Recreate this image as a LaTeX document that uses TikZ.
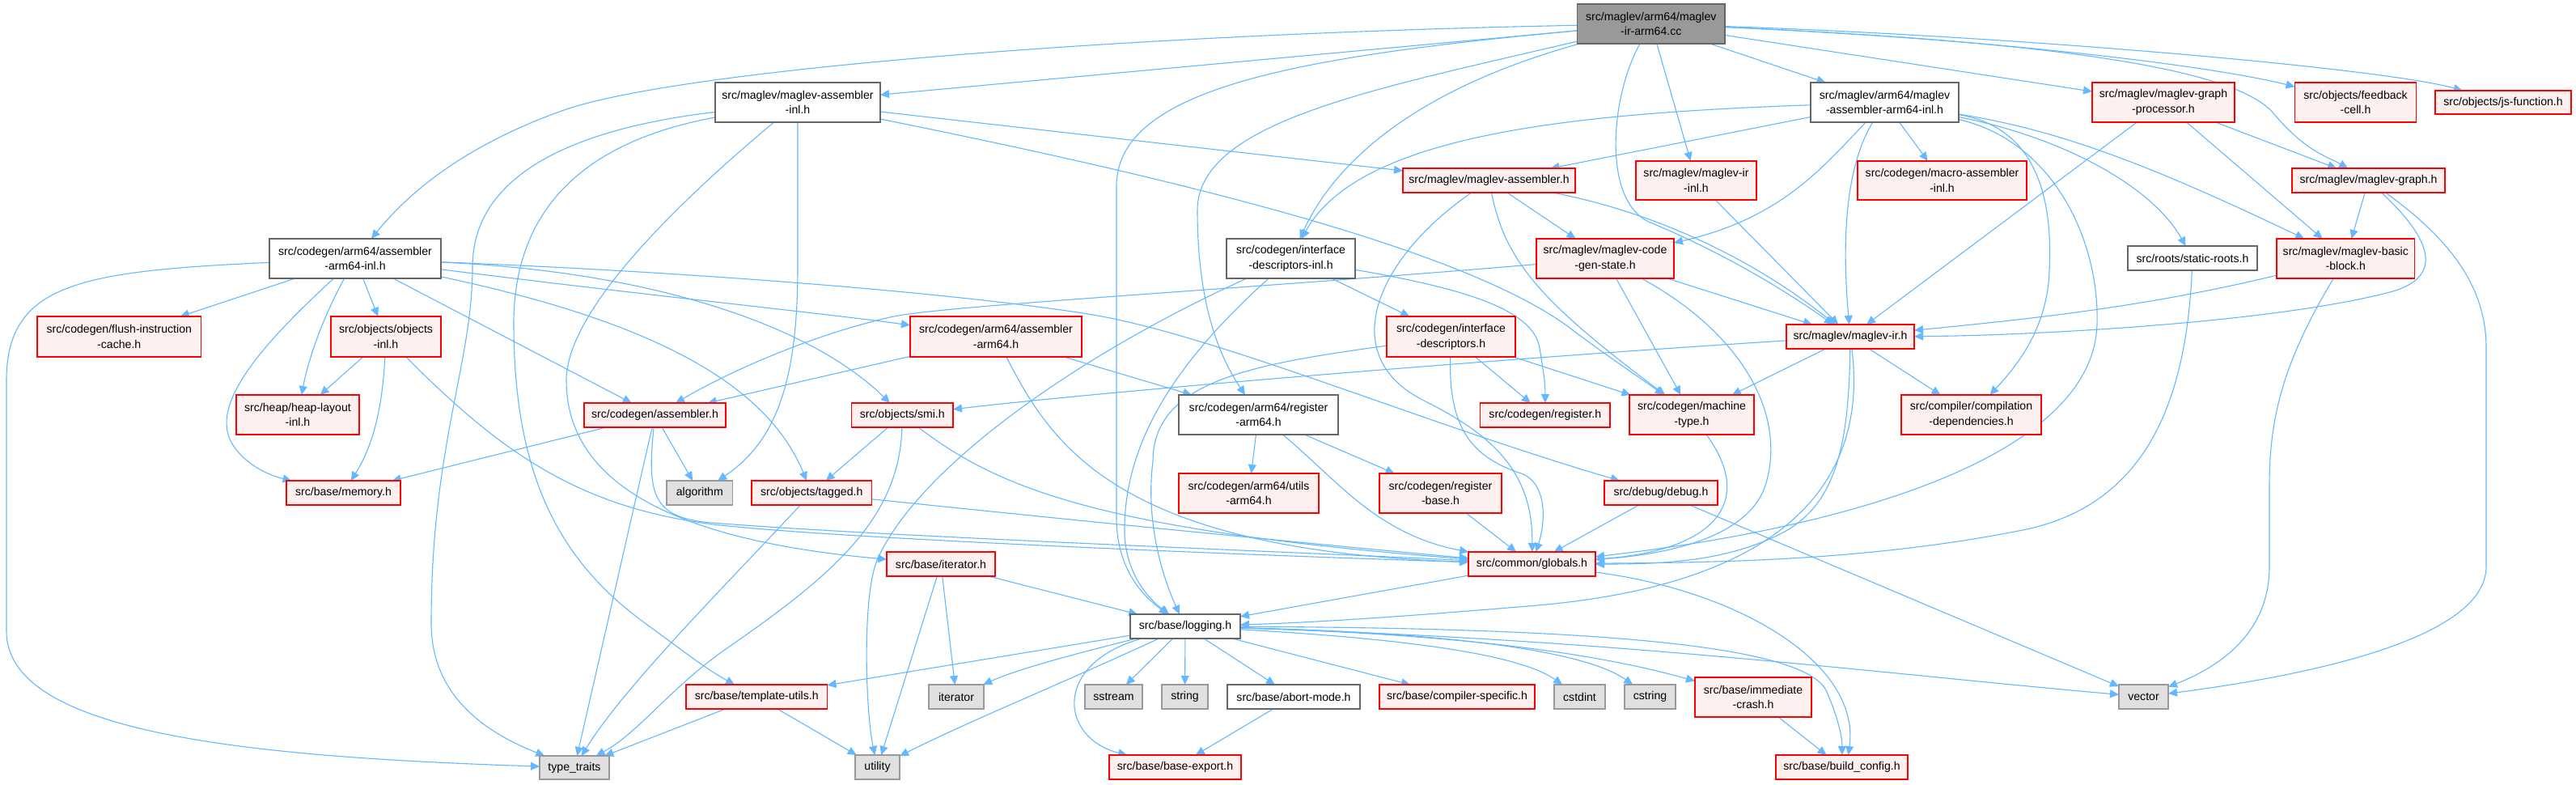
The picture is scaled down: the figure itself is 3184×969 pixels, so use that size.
\documentclass[tikz,border=0pt]{standalone}
\usepackage{fontspec}
\setmainfont{Liberation Sans}
\usetikzlibrary{arrows.meta,backgrounds}
\definecolor{edgec}{HTML}{63B8FF}
\definecolor{redfill}{HTML}{FFF0F0}
\definecolor{sysfill}{HTML}{E0E0E0}
\definecolor{gfour}{HTML}{666666}
\definecolor{gsix}{HTML}{999999}
\newcommand{\gn}[7]{\node[#1, minimum width={(#5-#3)*0.5pt}, minimum height={(#6-#4)*0.5pt}] (#2) at ({(#3+#5)/2},{(#4+#6)/2}) {#7};}
\begin{document}
\begin{tikzpicture}[x=0.5pt,y=-0.5pt,
  gbox/.style={draw, inner sep=0pt, outer sep=0pt, align=center, line width=0.6pt, font=\fontsize{7.05pt}{9.35pt}\selectfont},
  wnode/.style={gbox, draw=gfour, fill=white},
  rnode/.style={gbox, draw=red, fill=redfill},
  snode/.style={gbox, draw=gsix, fill=sysfill},
  rootnode/.style={gbox, draw=gfour, fill=gsix},
  dep/.style={draw=edgec, line width=0.55pt, -{Triangle[length=5.5pt,width=5pt]}}]
\useasboundingbox (0,0) rectangle (3184,969);
% nodes
\gn{rootnode}{root}{1949.5}{5}{2132}{54}{src/maglev/arm64/maglev\\-ir-arm64.cc}
\gn{wnode}{A}{884}{102}{1088}{151}{src/maglev/maglev-assembler\\-inl.h}
\gn{wnode}{B}{333}{295}{545}{344}{src/codegen/arm64/assembler\\-arm64-inl.h}
\gn{wnode}{C}{2238}{102}{2421}{151}{src/maglev/arm64/maglev\\-assembler-arm64-inl.h}
\gn{rnode}{D}{2586}{102}{2762}{151}{src/maglev/maglev-graph\\-processor.h}
\gn{rnode}{E}{2836.5}{102}{2986.5}{151}{src/objects/feedback\\-cell.h}
\gn{rnode}{F}{3010}{112}{3178}{141}{src/objects/js-function.h}
\gn{rnode}{G}{1734}{208}{1947}{238}{src/maglev/maglev-assembler.h}
\gn{rnode}{H}{2022}{199}{2171}{247}{src/maglev/maglev-ir\\-inl.h}
\gn{rnode}{I}{2296}{199}{2505}{247}{src/codegen/macro-assembler\\-inl.h}
\gn{rnode}{J}{2833}{208}{3022}{238}{src/maglev/maglev-graph.h}
\gn{wnode}{K}{1516}{295}{1675}{344}{src/codegen/interface\\-descriptors-inl.h}
\gn{rnode}{L}{1899}{295}{2069}{344}{src/maglev/maglev-code\\-gen-state.h}
\gn{wnode}{M}{2630}{304}{2790}{334}{src/roots/static-roots.h}
\gn{rnode}{N}{2814}{295}{2984.5}{344}{src/maglev/maglev-basic\\-block.h}
\gn{rnode}{O}{46}{391}{248.5}{441}{src/codegen/flush-instruction\\-cache.h}
\gn{rnode}{P}{409}{391}{545}{441}{src/objects/objects\\-inl.h}
\gn{rnode}{Q}{1125}{391}{1337}{441}{src/codegen/arm64/assembler\\-arm64.h}
\gn{rnode}{R}{1714}{391}{1873}{441}{src/codegen/interface\\-descriptors.h}
\gn{rnode}{S}{2208}{401}{2366}{431}{src/maglev/maglev-ir.h}
\gn{rnode}{T}{292}{488}{444}{537}{src/heap/heap-layout\\-inl.h}
\gn{rnode}{U}{722}{498}{897}{528}{src/codegen/assembler.h}
\gn{rnode}{V}{1052.5}{498}{1178}{528}{src/objects/smi.h}
\gn{wnode}{W}{1457}{488}{1654}{537}{src/codegen/arm64/register\\-arm64.h}
\gn{rnode}{X}{1829.6}{498}{1990}{528}{src/codegen/register.h}
\gn{rnode}{Y}{2014}{488}{2168}{537}{src/codegen/machine\\-type.h}
\gn{rnode}{Z}{2350}{488}{2523}{537}{src/compiler/compilation\\-dependencies.h}
\gn{rnode}{mem}{354}{594}{495}{624}{src/base/memory.h}
\gn{snode}{alg}{824}{594}{905.6}{624}{algorithm}
\gn{rnode}{tag}{929}{594}{1077.5}{624}{src/objects/tagged.h}
\gn{rnode}{utl}{1457}{585}{1630}{634}{src/codegen/arm64/utils\\-arm64.h}
\gn{rnode}{rb}{1705}{585}{1856}{634}{src/codegen/register\\-base.h}
\gn{rnode}{dbg}{1983}{594}{2123}{624}{src/debug/debug.h}
\gn{rnode}{itr}{1096}{682}{1230}{712}{src/base/iterator.h}
\gn{rnode}{glob}{1815}{682}{1972}{712}{src/common/globals.h}
\gn{wnode}{log}{1397}{759}{1533}{789}{src/base/logging.h}
\gn{rnode}{tu}{848}{846}{1022.5}{876}{src/base/template-utils.h}
\gn{snode}{stditer}{1148}{846}{1216}{876}{iterator}
\gn{snode}{sstream}{1341}{846}{1412}{876}{sstream}
\gn{snode}{string}{1436}{846}{1493}{876}{string}
\gn{wnode}{abort}{1517}{846}{1681}{876}{src/base/abort-mode.h}
\gn{rnode}{cspec}{1705}{846}{1897}{876}{src/base/compiler-specific.h}
\gn{snode}{cstdint}{1921}{846}{1984}{876}{cstdint}
\gn{snode}{cstring}{2008}{846}{2071}{876}{cstring}
\gn{rnode}{ic}{2095}{837}{2239}{886}{src/base/immediate\\-crash.h}
\gn{snode}{vec}{2619}{846}{2680}{876}{vector}
\gn{snode}{tt}{667}{934}{753}{963}{type\_traits}
\gn{snode}{util}{1057}{933}{1112}{963}{utility}
\gn{rnode}{be}{1371}{933}{1534}{963}{src/base/base-export.h}
\gn{rnode}{bc}{2195}{933}{2358}{963}{src/base/build\_config.h}
\begin{pgfonlayer}{background}
\fill[white] (0,0) rectangle (3184,969);
% root
\draw[dep] (root) .. controls (1400,42) and (850,85) .. (700,135) .. controls (600,170) and (520,220) .. (B);
\draw[dep] (root) -- (A);
\draw[dep] (root) .. controls (1600,70) and (1380,110) .. (1380,230) -- (1380,640) .. controls (1380,700) and (1410,735) .. (log);
\draw[dep] (root) .. controls (1700,110) and (1480,150) .. (1480,260) .. controls (1480,360) and (1500,430) .. (W);
\draw[dep] (root) .. controls (1750,110) and (1650,200) .. (K);
\draw[dep] (root) -- (C);
\draw[dep] (root) -- (H);
\draw[dep] (root) .. controls (1990,120) and (1980,250) .. (2040,275) .. controls (2100,300) and (2180,340) .. (S);
\draw[dep] (root) -- (D);
\draw[dep] (root) .. controls (2500,50) and (2750,85) .. (E);
\draw[dep] (root) .. controls (2500,45) and (2950,85) .. (F);
\draw[dep] (root) .. controls (2500,50) and (2760,80) .. (2810,140) .. controls (2850,188) and (2880,195) .. (J);
% A
\draw[dep] (A) -- (G);
\draw[dep] (A) .. controls (1400,210) and (1800,300) .. (1940,405) .. controls (1985,439) and (2020,462) .. (Y);
\draw[dep] (A) -- (986,330) .. controls (986,470) and (960,545) .. (alg);
\draw[dep] (A) .. controls (700,160) and (584,220) .. (584,330) .. controls (584,450) and (533,550) .. (533,770) .. controls (533,860) and (600,905) .. (tt);
\draw[dep] (A) .. controls (720,175) and (635,260) .. (635,400) .. controls (635,600) and (700,700) .. (800,772) .. controls (840,801) and (870,825) .. (tu);
\draw[dep] (A) .. controls (850,240) and (700,380) .. (700,470) .. controls (700,580) and (800,665) .. (itr);
% C
\draw[dep] (C) .. controls (1950,140) and (1680,165) .. (K);
\draw[dep] (C) -- (G);
\draw[dep] (C) .. controls (2250,210) and (2200,270) .. (L);
\draw[dep] (C) -- (I);
\draw[dep] (C) .. controls (2285,200) and (2275,280) .. (S);
\draw[dep] (C) .. controls (2540,160) and (2650,200) .. (N);
\draw[dep] (C) .. controls (2550,170) and (2660,230) .. (M);
\draw[dep] (C) .. controls (2520,158) and (2540,250) .. (2532,350) .. controls (2525,410) and (2495,450) .. (Z);
\draw[dep] (C) .. controls (2540,175) and (2595,300) .. (2592,400) .. controls (2588,560) and (2300,650) .. (glob);
% K
\draw[dep] (K) -- (R);
\draw[dep] (K) .. controls (1800,355) and (1895,380) .. (1903,430) .. controls (1908,461) and (1910,475) .. (X);
\draw[dep] (K) .. controls (1350,430) and (1140,570) .. (1085,690) .. controls (1065,734) and (1070,880) .. (util);
\draw[dep] (K) .. controls (1450,450) and (1388,550) .. (1390,660) .. controls (1392,710) and (1420,740) .. (log);
% R
\draw[dep] (R) -- (X);
\draw[dep] (R) -- (Y);
\draw[dep] (R) .. controls (1790,530) and (1820,565) .. (1880,585) .. controls (1910,595) and (1912,640) .. (glob);
\draw[dep] (R) .. controls (1550,450) and (1425,470) .. (1425,570) .. controls (1415,650) and (1440,720) .. (log);
% L
\draw[dep] (L) -- (Y);
\draw[dep] (L) .. controls (2150,410) and (2210,510) .. (2182,600) .. controls (2160,665) and (2060,685) .. (glob);
\draw[dep] (L) -- (S);
\draw[dep] (L) .. controls (1500,360) and (1160,378) .. (1100,392) .. controls (1000,415) and (900,460) .. (U);
% G
\draw[dep] (G) .. controls (1700,320) and (1650,440) .. (1760,495) .. controls (1840,535) and (1895,580) .. (glob);
\draw[dep] (G) .. controls (1860,320) and (1900,370) .. (Y);
\draw[dep] (G) -- (L);
\draw[dep] (G) .. controls (2060,265) and (2180,330) .. (S);
% H D J N
\draw[dep] (H) -- (S);
\draw[dep] (D) -- (J);
\draw[dep] (D) -- (N);
\draw[dep] (D) -- (S);
\draw[dep] (J) -- (N);
\draw[dep] (J) .. controls (3010,300) and (3020,345) .. (2950,362) .. controls (2800,400) and (2500,415) .. (S);
\draw[dep] (J) .. controls (3035,300) and (3073,360) .. (3073,430) -- (3073,700) .. controls (3073,790) and (2850,835) .. (vec);
\draw[dep] (N) .. controls (2650,380) and (2500,395) .. (S);
\draw[dep] (N) .. controls (2820,450) and (2805,520) .. (2805,600) -- (2805,700) .. controls (2805,785) and (2740,825) .. (vec);
% S
\draw[dep] (S) .. controls (1900,440) and (1400,480) .. (V);
\draw[dep] (S) -- (Y);
\draw[dep] (S) -- (Z);
\draw[dep] (S) .. controls (2285,550) and (2270,625) .. (2200,660) .. controls (2130,695) and (2050,697) .. (glob);
\draw[dep] (S) .. controls (2310,600) and (2200,722) .. (1900,748) .. controls (1700,765) and (1600,770) .. (log);
% Y M
\draw[dep] (Y) .. controls (2170,620) and (2120,680) .. (glob);
\draw[dep] (M) .. controls (2702,500) and (2650,625) .. (2500,655) .. controls (2300,695) and (2100,695) .. (glob);
% U
\draw[dep] (U) -- (mem);
\draw[dep] (U) -- (alg);
\draw[dep] (U) -- (tt);
\draw[dep] (U) .. controls (800,610) and (805,640) .. (880,646) .. controls (1100,663.6) and (1650,684) .. (glob);
% V
\draw[dep] (V) -- (tag);
\draw[dep] (V) .. controls (1230,600) and (1350,655) .. (glob);
\draw[dep] (V) .. controls (1112,640) and (1030,710) .. (900,800) .. controls (830,848) and (790,905) .. (tt);
% tag
\draw[dep] (tag) .. controls (1300,640) and (1600,670) .. (glob);
\draw[dep] (tag) .. controls (900,720) and (770,850) .. (tt);
% P
\draw[dep] (P) -- (T);
\draw[dep] (P) .. controls (472,520) and (455,560) .. (mem);
\draw[dep] (P) .. controls (620,560) and (720,632) .. (900,650) .. controls (1080,668) and (1600,688) .. (glob);
% B
\draw[dep] (B) .. controls (100,335) and (8,350) .. (8,470) -- (8,780) .. controls (8,905) and (300,935) .. (tt);
\draw[dep] (B) -- (O);
\draw[dep] (B) .. controls (330,420) and (255,500) .. (288,550) .. controls (305,576) and (335,588) .. (mem);
\draw[dep] (B) .. controls (395,400) and (380,450) .. (T);
\draw[dep] (B) -- (P);
\draw[dep] (B) -- (U);
\draw[dep] (B) .. controls (800,365) and (1000,385) .. (Q);
\draw[dep] (B) .. controls (800,335) and (1000,400) .. (V);
\draw[dep] (B) .. controls (900,338) and (1200,365) .. (1345,388) .. controls (1500,413) and (1750,520) .. (dbg);
\draw[dep] (B) .. controls (820,400) and (950,480) .. (tag);
% Q
\draw[dep] (Q) -- (U);
\draw[dep] (Q) -- (W);
\draw[dep] (Q) .. controls (1300,550) and (1380,680) .. (glob);
% W rb dbg
\draw[dep] (W) -- (utl);
\draw[dep] (W) -- (rb);
\draw[dep] (W) .. controls (1650,590) and (1700,660) .. (glob);
\draw[dep] (rb) -- (glob);
\draw[dep] (dbg) -- (glob);
\draw[dep] (dbg) -- (vec);
% glob
\draw[dep] (glob) -- (log);
\draw[dep] (glob) .. controls (2150,730) and (2300,820) .. ([xshift=4pt]bc.north);
% itr tu
\draw[dep] (itr) -- (log);
\draw[dep] (itr) -- (stditer);
\draw[dep] (itr) -- (util);
\draw[dep] (tu) -- (util);
\draw[dep] (tu) -- (tt);
% log
\draw[dep] (log) -- (tu);
\draw[dep] (log) .. controls (1320,810) and (1255,828) .. (stditer);
\draw[dep] (log) .. controls (1300,850) and (1200,890) .. (util);
\draw[dep] (log) .. controls (1300,820) and (1310,912) .. (be);
\draw[dep] (log) -- (sstream);
\draw[dep] (log) -- (string);
\draw[dep] (log) -- (abort);
\draw[dep] (log) -- (cspec);
\draw[dep] (log) .. controls (1750,790) and (1880,810) .. (cstdint);
\draw[dep] (log) .. controls (1800,782) and (1960,805) .. (cstring);
\draw[dep] (log) .. controls (1850,785) and (2000,815) .. (ic);
\draw[dep] (log) .. controls (2000,776) and (2235,800) .. (2258,855) .. controls (2272,888) and (2277,910) .. (bc);
\draw[dep] (log) .. controls (2000,790) and (2300,830) .. (vec);
% others
\draw[dep] (abort) -- (be);
\draw[dep] (ic) -- (bc);
\end{pgfonlayer}
\end{tikzpicture}
\end{document}
